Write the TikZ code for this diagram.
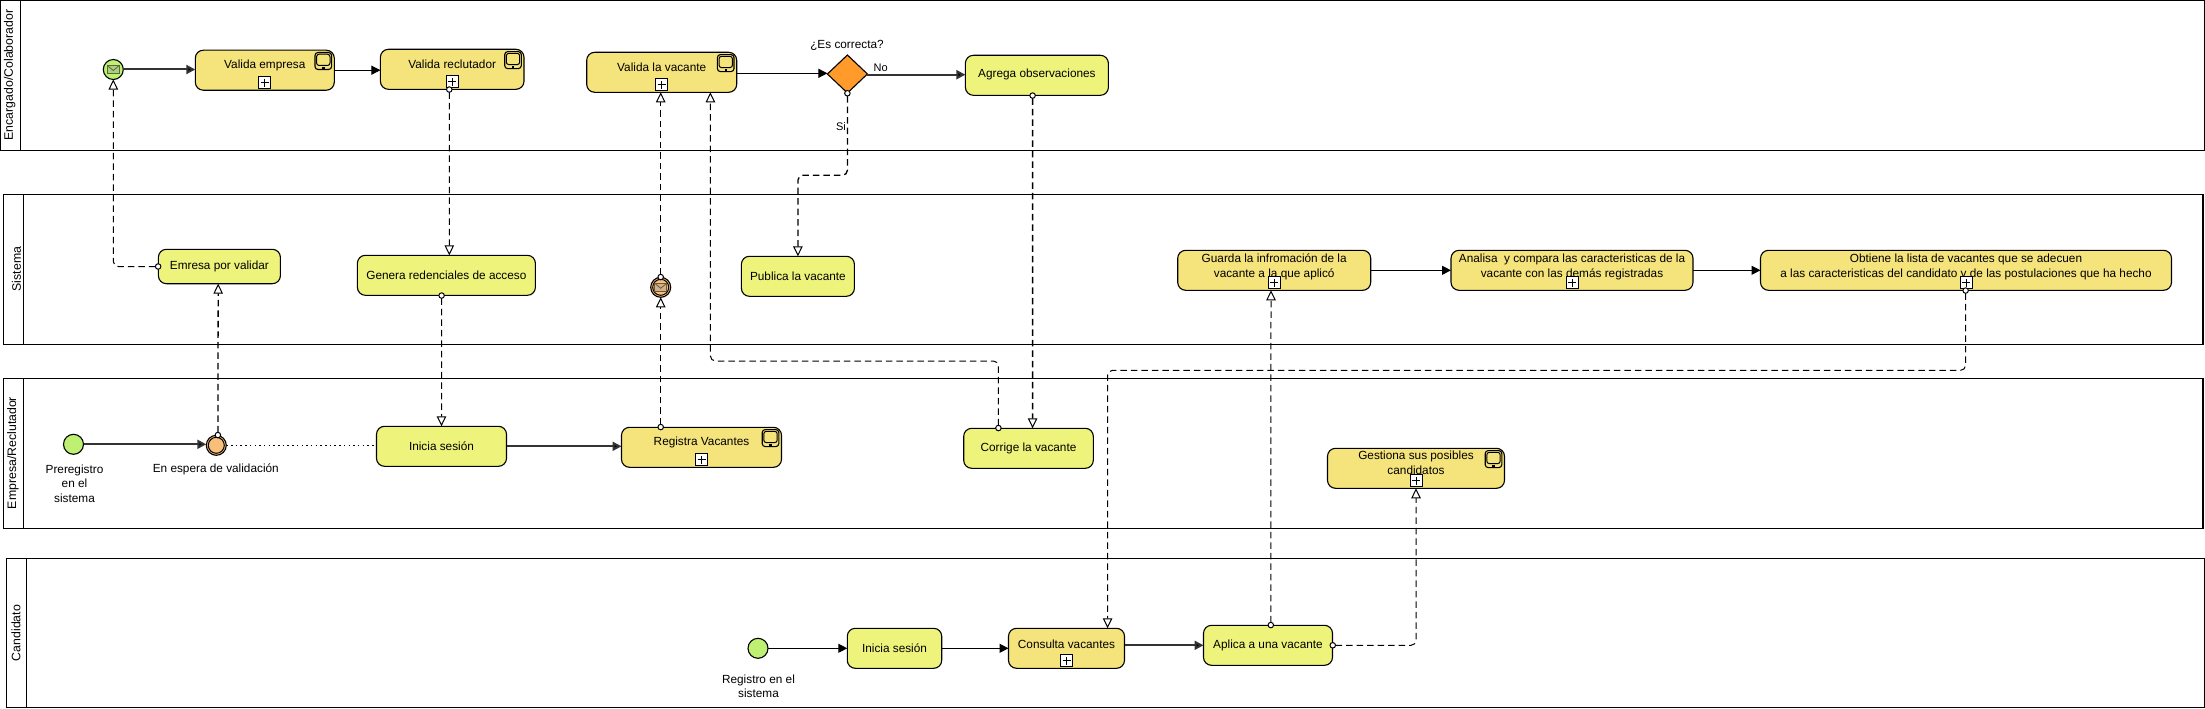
\documentclass[tikz,border=0pt]{standalone}
\usepackage{fontspec}
\setmainfont{Liberation Sans}
\usetikzlibrary{arrows.meta,calc,shapes.geometric}
\definecolor{subfill}{HTML}{F5E37C}
\definecolor{taskfill}{HTML}{EEF47B}
\definecolor{startfill}{HTML}{BEF071}
\definecolor{waitfill}{HTML}{F7BF7A}
\definecolor{gatefill}{HTML}{FF9A2B}
\tikzset{
	lane/.style={line width=1.2pt},
	lanetitle/.style={rotate=90,font=\fontsize{12.3}{14}\selectfont},
	basetask/.style={draw,line width=1.1pt,rounded corners=8pt,inner sep=0pt,outer sep=0pt,minimum height=40pt,align=center,font=\fontsize{11.8}{14.4}\selectfont},
	task/.style={basetask,fill=taskfill},
	subtask/.style={basetask,fill=subfill},
	startev/.style={draw,circle,line width=1.1pt,fill=startfill,minimum size=20pt,inner sep=0pt,outer sep=0pt},
	waitev/.style={startev,fill=waitfill},
	gate/.style={draw,diamond,line width=1.1pt,fill=gatefill,minimum width=40pt,minimum height=38pt,inner sep=0pt,outer sep=0pt},
	caption/.style={align=center,font=\fontsize{11.8}{14.4}\selectfont},
	flowlabel/.style={fill=white,inner sep=0.5pt,font=\fontsize{11}{13}\selectfont},
	seq/.style={line width=1.1pt,-{Triangle[length=9pt,width=9pt]}},
	seqthick/.style={line width=2pt,draw=black!80,-{Triangle[length=9pt,width=9pt,fill=black]}},
	msg/.style={line width=1pt,rounded corners=5pt,dash pattern=on 6.5pt off 4pt,shorten <=-3pt,
		{Circle[open,fill=white,length=6.5pt,width=6.5pt,line width=1pt]}-{Triangle[open,fill=white,length=10pt,width=9.5pt,line width=1pt]}},
	msgthick/.style={msg,line width=1.3pt}
}
\def\plusbox(#1){
	\draw[line width=1pt,fill=white] ($(#1.south)+(-6,-13.5)$) rectangle ($(#1.south)+(6,-1.5)$);
	\draw[line width=0.8pt] ($(#1.south)+(-4,-7.5)$) -- ($(#1.south)+(4,-7.5)$);
	\draw[line width=0.8pt] ($(#1.south)+(0,-11.5)$) -- ($(#1.south)+(0,-3.5)$);
}
\def\screenicon(#1){
	\draw[line width=1.1pt,rounded corners=3pt] ($(#1.north east)+(-19.3,2.3)$) rectangle ($(#1.north east)+(-2.7,19.3)$);
	\draw[line width=1pt,rounded corners=2.5pt] ($(#1.north east)+(-17.7,4)$) rectangle ($(#1.north east)+(-4.3,15.3)$);
	\fill ($(#1.north east)+(-12.2,16.9)$) rectangle ($(#1.north east)+(-9.8,18.7)$);
}
\def\envelope(#1)[#2]{
	\draw[line width=0.9pt,draw=#2!45!black,fill=#2!75!black!70!white] ($(#1)+(-6,-4)$) rectangle ($(#1)+(6,4)$);
	\draw[line width=0.8pt,draw=#2!45!black] ($(#1)+(-6,-4)$) -- ($(#1)+(0,1)$) -- ($(#1)+(6,-4)$);
}

\begin{document}
\begin{tikzpicture}[x=1pt,y=-1pt]
	\useasboundingbox (0,0) rectangle (2205,709);
	
	%%%%% LANES %%%%%
	\draw[lane] (0.5,0.5) rectangle (2204.5,150.5);
	\draw[lane] (20.5,0.5) -- (20.5,150.5);
	\node[lanetitle] (titlecol) at (9.7,75) {Encargado/Colaborador};
	
	\draw[lane] (3.5,194.5) rectangle (2203,344.5);
	\draw[lane] (23.5,194.5) -- (23.5,344.5);
	\node[lanetitle] (titlesis) at (16.5,269) {Sistema};
	
	\draw[lane] (3.5,378.5) rectangle (2203,528.5);
	\draw[lane] (23.5,378.5) -- (23.5,528.5);
	\node[lanetitle] (titleemp) at (13,453) {Empresa/Reclutador};
	
	\draw[lane] (6.5,558.5) rectangle (2204.5,707.5);
	\draw[lane] (26.5,558.5) -- (26.5,707.5);
	\node[lanetitle] (titlecan) at (16,633) {Candidato};
	
	%%%%% ENCARGADO %%%%%
	\node[startev] (startmsg) at (113.3,69.5) {};
	\node[subtask,minimum width=139pt] (valemp) at (264.8,70.2) {\raisebox{5pt}[\height][\depth]{Valida empresa}};
	\node[subtask,minimum width=143.6pt] (valrec) at (452.2,69.3) {\raisebox{5pt}[\height][\depth]{Valida reclutador}};
	\node[subtask,minimum width=150pt] (valvac) at (661.7,72.3) {\raisebox{4.6pt}[\height][\depth]{Valida la vacante}};
	\node[gate] (gw) at (847.4,74) {};
	\node[caption] (gwtitle) at (847,45) {¿Es correcta?};
	\node[task,minimum width=143pt] (agrega) at (1036.9,75.3) {\raisebox{0.6pt}[\height][\depth]{Agrega observaciones}};
	
	%%%%% SISTEMA %%%%%
	\node[task,minimum width=122pt,minimum height=34.4pt] (emresa) at (219.4,266.5) {Emresa por validar};
	\node[task,minimum width=178pt] (genera) at (446.4,275.3) {Genera redenciales de acceso};
	\node[waitev] (intmsg) at (660.7,287.3) {};
	\node[task,minimum width=113pt] (publica) at (797.9,276.3) {Publica la vacante};
	\node[subtask,minimum width=193pt] (guarda) at (1274.2,270.3) {\raisebox{3pt}[\height][\depth]{\begin{tabular}{@{}c@{}}Guarda la infromación de la\\vacante a la que aplicó\end{tabular}}};
	\node[subtask,minimum width=242pt] (analisa) at (1572,270.3) {\raisebox{3pt}[\height][\depth]{\begin{tabular}{@{}c@{}}Analisa\ \ y compara las caracteristicas de la\\vacante con las demás registradas\end{tabular}}};
	\node[subtask,minimum width=411pt] (obtiene) at (1966,270.3) {\raisebox{3pt}[\height][\depth]{\begin{tabular}{@{}c@{}}Obtiene la lista de vacantes que se adecuen\\a las caracteristicas del candidato y de las postulaciones que ha hecho\end{tabular}}};
	
	%%%%% EMPRESA %%%%%
	\node[startev] (startpre) at (73.5,444.3) {};
	\node[caption] (startprelabel) at (74.5,483.7) {Preregistro\\en el\\sistema};
	\node[waitev] (espera) at (216.3,445.3) {};
	\node[caption] (esperalabel) at (215.8,469.5) {En espera de validación};
	\node[task,minimum width=130pt] (inicemp) at (441.5,446.3) {Inicia sesión};
	\node[subtask,minimum width=160pt] (registra) at (701.5,447.3) {\raisebox{4.6pt}[\height][\depth]{Registra Vacantes}};
	\node[task,minimum width=129.6pt] (corrige) at (1028.5,448.3) {Corrige la vacante};
	\node[subtask,minimum width=177pt] (gestiona) at (1416,468.3) {\raisebox{4pt}[\height][\depth]{\begin{tabular}{@{}c@{}}Gestiona sus posibles\\candidatos\end{tabular}}};
	
	%%%%% CANDIDATO %%%%%
	\node[startev] (startreg) at (758,648.3) {};
	\node[caption] (startreglabel) at (758.5,686.3) {Registro en el\\sistema};
	\node[task,minimum width=94.4pt] (iniccan) at (894.5,648.3) {Inicia sesión};
	\node[subtask,minimum width=116pt] (consulta) at (1066.5,648.3) {\raisebox{3.8pt}[\height][\depth]{Consulta vacantes}};
	\node[task,minimum width=129pt] (aplica) at (1268,645.3) {Aplica a una vacante};
	
	%%%%% MARKS %%%%%
	\plusbox(valemp) \plusbox(valrec) \plusbox(valvac) \plusbox(registra) \plusbox(gestiona)
	\plusbox(guarda) \plusbox(analisa) \plusbox(obtiene) \plusbox(consulta)
	\screenicon(valemp) \screenicon(valrec) \screenicon(valvac) \screenicon(registra) \screenicon(gestiona)
	
	\draw[line width=1pt] (intmsg) circle (8pt);
	\draw[line width=1pt] (espera) circle (8pt);
	\envelope(startmsg)[startfill]
	\envelope(intmsg)[waitfill]
	
	%%%%% FLOWS %%%%%
	\draw[seqthick] (startmsg.east) -- (startmsg.east -| valemp.west);
	\draw[seq] (valemp.east) -- (valemp.east -| valrec.west);
	\draw[seq] ([yshift=0.7pt]valvac.east |- gw.west) -- ([yshift=0.7pt]gw.west);
	\draw[seqthick] ([yshift=-0.7pt]gw.east) -- ([yshift=-0.7pt]gw.east -| agrega.west);
	\node[flowlabel] (nolabel) at (880.7,67.5) {No};
	
	\draw[seqthick] (startpre.east) -- (startpre.east -| espera.west);
	\draw[line width=1.2pt,dash pattern=on 1.5pt off 3.2pt] (espera.east) -- (espera.east -| inicemp.west);
	\draw[seqthick] (inicemp.east) -- (inicemp.east -| registra.west);
	
	\draw[seq] (guarda.east) -- (analisa.west);
	\draw[seq] (analisa.east) -- (obtiene.west);
	
	\draw[seq] (startreg.east) -- (iniccan.west);
	\draw[seq] (iniccan.east) -- (consulta.west);
	\draw[seqthick] (consulta.east |- aplica.west) -- (aplica.west);
	
	\coordinate (gwvia) at (847.4,175.3);
	\coordinate (corrvia) at (998.4,361);
	\coordinate (obtvia) at (1965.6,370.3);
	
	\draw[msg] (emresa.west) -| (startmsg.south);
	\draw[msg] ([xshift=-2.9pt]valrec.south) -- ([xshift=2.9pt]genera.north);
	\draw[msg] ([xshift=-4.8pt]genera.south) -- (inicemp.north);
	\draw[msgthick] ([xshift=1.6pt]espera.north) -- ([xshift=-1.2pt]emresa.south);
	\draw[msg] ([xshift=-40.8pt]registra.north) -- (intmsg.south);
	\draw[msgthick] (intmsg.north) -- ([xshift=-1pt]valvac.south);
	\draw[msg] ([xshift=-30.1pt]corrige.north) -- (corrvia) -| ([xshift=48.7pt]valvac.south);
	\draw[msgthick] ([xshift=-4.3pt]agrega.south) -- ([xshift=4.1pt]corrige.north);
	\draw[msgthick] (gw.south) -- (gwvia) -| (publica.north);
	\node[flowlabel,fill=none] (silabel) at (841,127) {Si};
	\draw[msg] ([xshift=-0.4pt]obtiene.south) -- (obtvia) -| ([xshift=41.1pt]consulta.north);
	\draw[msg] ([xshift=2.8pt]aplica.north) -- ([xshift=-3.2pt]guarda.south);
	\draw[msg] (aplica.east) -| (gestiona.south);
\end{tikzpicture}
\end{document}
